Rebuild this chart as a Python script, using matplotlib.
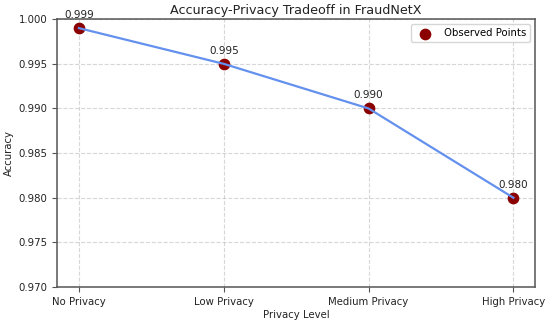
import matplotlib.pyplot as plt

privacy_levels = ["No Privacy", "Low Privacy", "Medium Privacy", "High Privacy"]
accuracy = [0.999, 0.995, 0.990, 0.980]

plt.figure(figsize=(5.5, 3.2), dpi=100)
x = range(len(privacy_levels))
plt.scatter(x, accuracy, color='darkred', s=55, label='Observed Points', zorder=2)
plt.plot(x, accuracy, color='#6490EE', linewidth=1.6, zorder=3)

for i, acc in zip(x, accuracy):
    plt.text(i, acc + 0.0009, f'{acc:.3f}', ha='center', va='bottom', fontsize=7.5, color='#222222')

ax = plt.gca()
plt.xticks(x, privacy_levels, fontsize=7.3, color='#222222')
plt.yticks(fontsize=7.3, color='#222222')
plt.ylim(0.970, 1.000)
plt.xlim(-0.15, 3.15)
ax.yaxis.set_major_formatter(plt.FormatStrFormatter('%.3f'))
for spine in ax.spines.values():
    spine.set_color('#555555')
    spine.set_linewidth(1.1)
ax.tick_params(color='#555555', length=3.5)
plt.title("Accuracy-Privacy Tradeoff in FraudNetX", fontsize=9.2, color='#222222', pad=4)
plt.xlabel("Privacy Level", fontsize=7.3, color='#222222', labelpad=2)
plt.ylabel("Accuracy", fontsize=7.3, color='#222222', labelpad=3)
plt.grid(True, linestyle='--', alpha=0.5)
plt.legend(fontsize=7.3, loc='upper right')
plt.subplots_adjust(left=0.104, right=0.973, top=0.94, bottom=0.103)
plt.savefig('out.png', dpi=100)
